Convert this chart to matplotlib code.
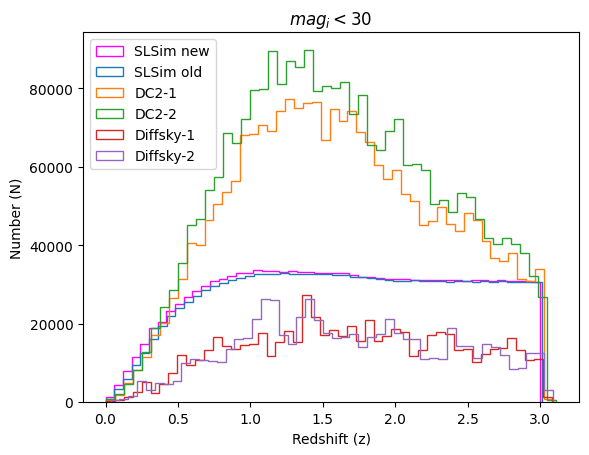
import numpy as np
import matplotlib
matplotlib.use('Agg')
import matplotlib.pyplot as plt

# redshift range of each sample (50 bins each)
sl_new_range = (0.0, 3.0)
sl_old_range = (0.0, 3.01)
dc2_1_range = (0.005, 3.089)
dc2_2_range = (0.005, 3.113)
diff_1_range = (0.003, 3.082)
diff_2_range = (0.035, 3.089)

sl_new = [1270, 4420, 7820, 11480, 14800, 18800, 20410, 23140, 25090, 26790,
          28320, 29600, 30790, 31480, 32150, 32900, 33000, 33600, 33400, 33300,
          33200, 33300, 33100, 33200, 33000, 33000, 32900, 32800, 32400, 32000,
          31800, 31600, 31500, 31300, 31300, 31100, 31000, 31100, 31000, 31100,
          31000, 30900, 31000, 31100, 30900, 31000, 30800, 30900, 30800, 30700]
sl_old = [670, 3230, 5950, 9350, 12400, 16000, 19400, 21900, 24000, 25500,
          27000, 28500, 29500, 30400, 31000, 31600, 32200, 32600, 32700, 32700,
          32800, 32700, 32700, 32600, 32700, 32600, 32500, 32300, 32000, 31800,
          31600, 31300, 31100, 30900, 30900, 31000, 30800, 30800, 30900, 30700,
          30800, 30800, 30700, 30800, 30700, 30800, 30600, 30700, 30600, 30500]
dc2_1 = [400, 1860, 4840, 8080, 11480, 17000, 20200, 26500, 31300, 40500,
         40000, 46500, 50600, 53700, 56500, 68200, 68500, 70600, 69200, 74300,
         77200, 74900, 76200, 76500, 66900, 74700, 71600, 74200, 68900, 66400,
         60500, 56900, 59100, 53000, 51300, 45100, 46200, 49800, 45300, 43600,
         48200, 46400, 41100, 36800, 36000, 38100, 31300, 30900, 33900, 700]
dc2_2 = [660, 2100, 4700, 8080, 12760, 18970, 24300, 28550, 35500, 45270,
         46800, 54200, 57300, 68700, 66200, 72300, 79500, 79900, 89500, 81200,
         87000, 85500, 89900, 79400, 80700, 80000, 81600, 73600, 78400, 65500,
         64300, 69200, 72100, 60400, 60600, 59300, 50600, 51600, 48500, 53300,
         52200, 46600, 41900, 40200, 41900, 40200, 38000, 32200, 26800, 500]
diff_1 = [250, 590, 1270, 2540, 5100, 2370, 4500, 7400, 12080, 9350,
          10800, 13190, 16590, 14290, 13440, 14630, 14800, 17600, 11740, 15310,
          18200, 15310, 27220, 21700, 17010, 18290, 16800, 19300, 15570, 20830,
          15570, 16850, 18550, 17870, 11740, 13360, 17020, 17870, 17440, 13360,
          13530, 10200, 12340, 13440, 13870, 16430, 13190, 10800, 11060, 1200]
diff_2 = [420, 670, 1440, 5350, 2970, 4930, 4680, 5270, 9950, 11060,
          10800, 10380, 10200, 13600, 16160, 16400, 21100, 26380, 25950, 17100,
          14700, 21700, 26300, 21000, 17500, 16340, 16700, 17300, 14040, 16600,
          17300, 21200, 17600, 16000, 16000, 10890, 11230, 11060, 18890, 14210,
          14210, 11230, 14720, 14040, 11910, 8500, 8680, 12590, 12590, 3150]

series = [
    ("SLSim new", sl_new, sl_new_range, "magenta"),
    ("SLSim old", sl_old, sl_old_range, "C0"),
    ("DC2-1", dc2_1, dc2_1_range, "C1"),
    ("DC2-2", dc2_2, dc2_2_range, "C2"),
    ("Diffsky-1", diff_1, diff_1_range, "C3"),
    ("Diffsky-2", diff_2, diff_2_range, "C4"),
]

fig = plt.figure(figsize=(5.89, 4.56), dpi=100)
ax = fig.add_subplot(111)
fig.subplots_adjust(left=83/589, right=579/589, top=1-33/456, bottom=1-403/456)

for name, vals, rng, col in series:
    edges = np.linspace(rng[0], rng[1], len(vals) + 1)
    centers = 0.5 * (edges[:-1] + edges[1:])
    ax.hist(centers, bins=edges, weights=vals, histtype='step', color=col, label=name)

ax.set_title('$mag_i < 30$')
ax.set_xlabel('Redshift (z)')
ax.set_ylabel('Number (N)')
ax.legend(loc='upper left')

fig.savefig('out.png', dpi=100)
